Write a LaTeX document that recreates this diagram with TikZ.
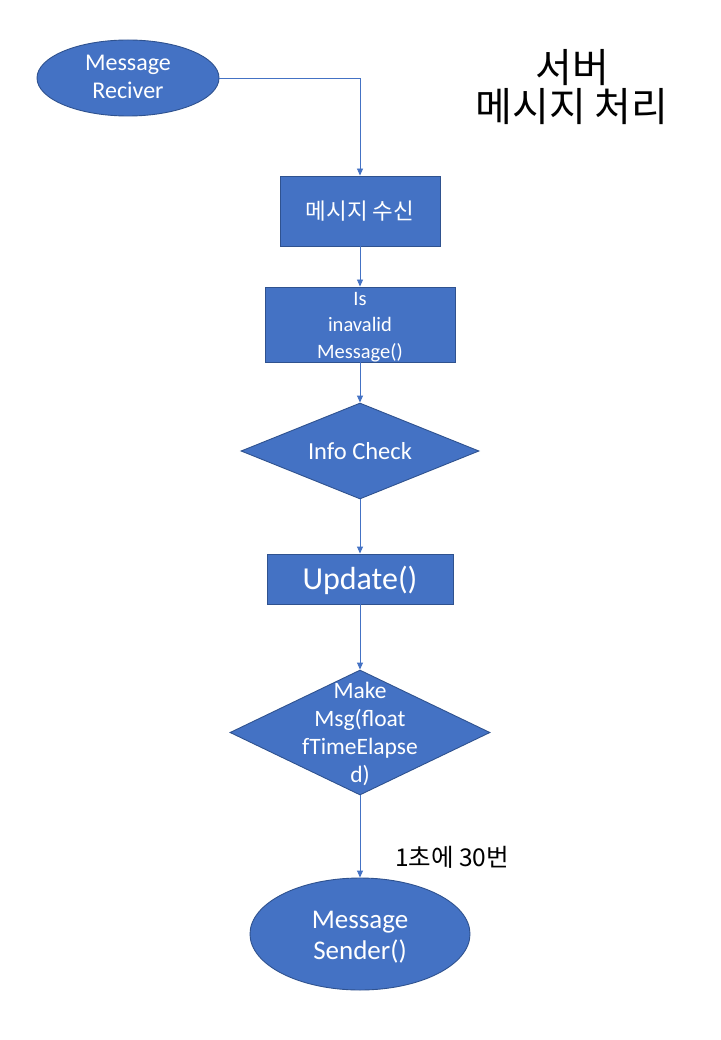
\documentclass[tikz,border=0pt]{standalone}
\usepackage{fontspec}
\setmainfont{Carlito}
\newfontfamily\kr{Noto Sans CJK KR}
\usetikzlibrary{shapes.geometric,arrows.meta}
\definecolor{fillblue}{HTML}{4472C4}
\definecolor{edgeblue}{HTML}{2F528F}
\tikzset{
  blk/.style={draw=edgeblue, line width=0.9pt, fill=fillblue, text=white, inner sep=0pt},
  boxnode/.style={blk, rectangle},
  ellnode/.style={blk, ellipse},
  dianode/.style={blk, diamond},
  lbl/.style={text=white, align=center, inner sep=0pt},
  conn/.style={draw=fillblue, line width=0.9pt, -{Triangle[width=6pt,length=7pt]}},
}
\begin{document}
\begin{tikzpicture}[x=1pt,y=-1pt]
\useasboundingbox (0,0) rectangle (720,1040);
\fill[white] (0,0) rectangle (720,1040);

% title
\node[align=center, inner sep=0pt, font=\kr\fontsize{40}{39}\selectfont] (title) at (572,87) {서버\\메시지 처리};

% nodes
\node[ellnode, minimum width=182pt, minimum height=76pt] (recv) at (128,78) {};
\node[lbl, font=\fontsize{24}{28}\selectfont] at (128,77) {Message\\Reciver};

\node[boxnode, minimum width=160pt, minimum height=70pt] (rx) at (360,211) {};
\node[lbl, font=\kr\fontsize{22.5}{22}\selectfont] at (rx) {메시지 수신};

\node[boxnode, minimum width=190pt, minimum height=75pt] (inv) at (360,324.5) {};
\node[lbl, font=\fontsize{20.5}{26.5}\selectfont] at (360,327) {Is\\inavalid\\Message()};

\node[dianode, minimum width=238pt, minimum height=96pt] (info) at (360,451) {};
\node[lbl, font=\fontsize{24.5}{24}\selectfont] at (info) {Info Check};

\node[boxnode, minimum width=186pt, minimum height=50pt] (upd) at (360,579) {};
\node[lbl, font=\fontsize{32}{32}\selectfont] at (360,580) {Update()};

\node[dianode, minimum width=260pt, minimum height=125pt] (mk) at (360,732.5) {};
\node[lbl, font=\fontsize{23.5}{28}\selectfont] at (360,733.5) {Make\\Msg(float\\fTimeElapse\\d)};

\node[ellnode, minimum width=220pt, minimum height=112pt] (send) at (360,934) {};
\node[lbl, font=\fontsize{27}{31}\selectfont] at (360,937) {Message\\Sender()};

\node[inner sep=0pt, font=\kr\fontsize{24.5}{22}\selectfont] (rate) at (452,857) {1초에 30번};

% connectors
\coordinate (bend) at (360,78);
\draw[conn] (recv.east) -- (bend) -- (rx.north);
\draw[conn] (rx.south) -- (inv.north);
\draw[conn] (inv.south) -- (info.north);
\draw[conn] (info.south) -- (upd.north);
\draw[conn] (upd.south) -- (mk.north);
\draw[conn] (mk.south) -- (send.north);
\end{tikzpicture}
\end{document}
